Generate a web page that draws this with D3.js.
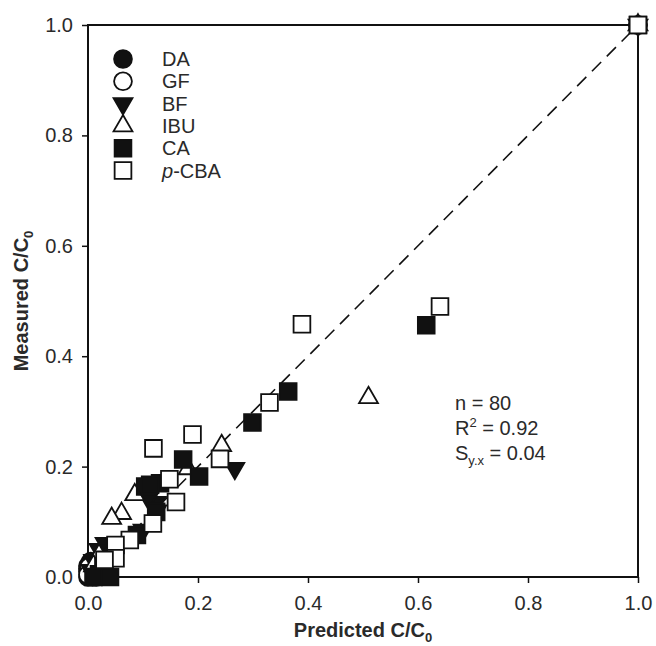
<!DOCTYPE html>
<html><head><meta charset="utf-8">
<script src="https://cdn.jsdelivr.net/npm/d3@7"></script>
<style>body{margin:0;background:#fff}svg{font-family:"Liberation Sans",Arial,sans-serif}</style>
</head><body>
<script>
const seriesNames = ["DA","GF","BF","IBU","CA","p-CBA"];
const DA = [[0,0.02],[0.005,0.01],[0.01,0.005],[0,0.015],[0.015,0.025],[0.01,0.02],[0.025,0.01],[0.015,0],[0.005,0.028],[0.02,0.015],[0,0],[0.03,0.005],[1,1]];
const GF = [[0,0.01],[0.005,0.005],[0.01,0.012],[0.002,0.018],[0.008,0.0],[0.015,0.008],[0.0,0.004],[1,1]];
const BF = [[0.267,0.197],[0.124,0.135],[0.11,0.142],[0.125,0.12],[0.1,0.085],[0.031,0.061],[0.02,0.05],[0.01,0.03],[0.005,0.012],[0.035,0.02],[1,1]];
const IBU = [[0.51,0.325],[0.243,0.238],[0.182,0.196],[0.085,0.149],[0.061,0.115],[0.043,0.106],[0.02,0.04],[0.01,0.02],[1,1]];
const CA = [[0.615,0.456],[0.364,0.336],[0.299,0.28],[0.173,0.213],[0.202,0.182],[0.131,0.17],[0.104,0.164],[0.113,0.167],[0.124,0.118],[0.089,0.076],[0.028,0.019],[0.02,0.005],[0.04,0.0],[0.01,0.0],[1,1]];
const PCBA = [[0.64,0.49],[0.389,0.458],[0.33,0.316],[0.19,0.258],[0.119,0.233],[0.24,0.214],[0.148,0.177],[0.16,0.136],[0.118,0.097],[0.076,0.067],[0.05,0.058],[0.05,0.034],[0.03,0.031],[1,1]];
const tickValues = [0,0.2,0.4,0.6,0.8,1.0];
const stats = ["n = 80","R2 = 0.92","Sy.x = 0.04"];

const W=656,H=646;
const svg=d3.select("body").append("svg").attr("width",W).attr("height",H);
const x=d3.scaleLinear().domain([0,1]).range([88,638]);
const y=d3.scaleLinear().domain([0,1]).range([577,25]);
const TXT="#2a2a2a";

// axes
const xa=svg.append("g").attr("transform","translate(0,577)")
 .call(d3.axisBottom(x).tickValues(tickValues).tickFormat(d3.format(".1f")).tickSize(6).tickSizeOuter(0).tickPadding(13));
const ya=svg.append("g").attr("transform","translate(88,0)")
 .call(d3.axisLeft(y).tickValues(tickValues).tickFormat(d3.format(".1f")).tickSize(6).tickSizeOuter(0).tickPadding(9));
[xa,ya].forEach(g=>{g.selectAll("text").attr("font-size",20).attr("fill",TXT).attr("font-family","Liberation Sans, Arial, sans-serif");
 g.selectAll("line").attr("stroke","#111").attr("stroke-width",1.5);
 g.select(".domain").remove();});
// frame
svg.append("rect").attr("x",x(0)).attr("y",y(1)).attr("width",x(1)-x(0)).attr("height",y(0)-y(1))
 .attr("fill","none").attr("stroke","#111").attr("stroke-width",2);

// 1:1 line
svg.append("line").attr("x1",x(0)).attr("y1",y(0)).attr("x2",x(1)).attr("y2",y(1))
 .attr("stroke","#111").attr("stroke-width",1.6).attr("stroke-dasharray","13,8");

// symbols
const shapes={
 "DA":{type:d3.symbolCircle,fill:"#111",size:250},
 "GF":{type:d3.symbolCircle,fill:"#fff",size:250},
 "BF":{type:"down",fill:"#111",size:155},
 "IBU":{type:d3.symbolTriangle,fill:"#fff",size:155},
 "CA":{type:d3.symbolSquare,fill:"#111",size:280},
 "p-CBA":{type:d3.symbolSquare,fill:"#fff",size:280}
};
function symPath(name){const s=shapes[name];
 if(s.type==="down") return d3.symbol(d3.symbolTriangle,s.size)();
 return d3.symbol(s.type,s.size)();}
function rot(name){return shapes[name].type==="down"?" rotate(180)":"";}
const data={"DA":DA,"GF":GF,"BF":BF,"IBU":IBU,"CA":CA,"p-CBA":PCBA};
const order=["DA","GF","BF","IBU","CA","p-CBA"];
order.forEach(n=>{
 svg.append("g").selectAll("path").data(data[n]).join("path")
  .attr("d",symPath(n))
  .attr("transform",d=>`translate(${x(d[0])},${y(d[1])})${rot(n)}`)
  .attr("fill",shapes[n].fill).attr("stroke","#111").attr("stroke-width",1.8);
});

// legend
const lg=svg.append("g");
seriesNames.forEach((n,i)=>{
 const yy=59+i*22.3;
 lg.append("path").attr("d",symPath(n)).attr("transform",`translate(123,${yy})${rot(n)}`)
  .attr("fill",shapes[n].fill).attr("stroke","#111").attr("stroke-width",1.8);
 const t=lg.append("text").attr("x",162).attr("y",yy+7).attr("font-size",20).attr("fill",TXT);
 if(n==="p-CBA"){t.append("tspan").attr("font-style","italic").text("p");t.append("tspan").text("-CBA");}
 else t.text(n);
});

// stats
const st=svg.append("g").attr("font-size",20).attr("fill",TXT);
st.append("text").attr("x",455).attr("y",410).text(stats[0]);
const r2=st.append("text").attr("x",455).attr("y",435);
r2.append("tspan").text("R");r2.append("tspan").attr("dy",-8).attr("font-size",13).text("2");
r2.append("tspan").attr("dy",8).text(" = 0.92");
const sy=st.append("text").attr("x",455).attr("y",460);
sy.append("tspan").text("S");sy.append("tspan").attr("dy",5).attr("font-size",13).text("y.x");
sy.append("tspan").attr("dy",-5).text(" = 0.04");

// titles
const xt=svg.append("text").attr("x",x(0.5)).attr("y",637).attr("text-anchor","middle")
 .attr("font-size",20).attr("font-weight","bold").attr("fill",TXT);
xt.append("tspan").text("Predicted C/C");xt.append("tspan").attr("dy",5).attr("font-size",13).text("0");
const yt=svg.append("text").attr("transform",`translate(28,${y(0.5)}) rotate(-90)`).attr("text-anchor","middle")
 .attr("font-size",20).attr("font-weight","bold").attr("fill",TXT);
yt.append("tspan").text("Measured C/C");yt.append("tspan").attr("dy",5).attr("font-size",13).text("0");
</script>
</body></html>
